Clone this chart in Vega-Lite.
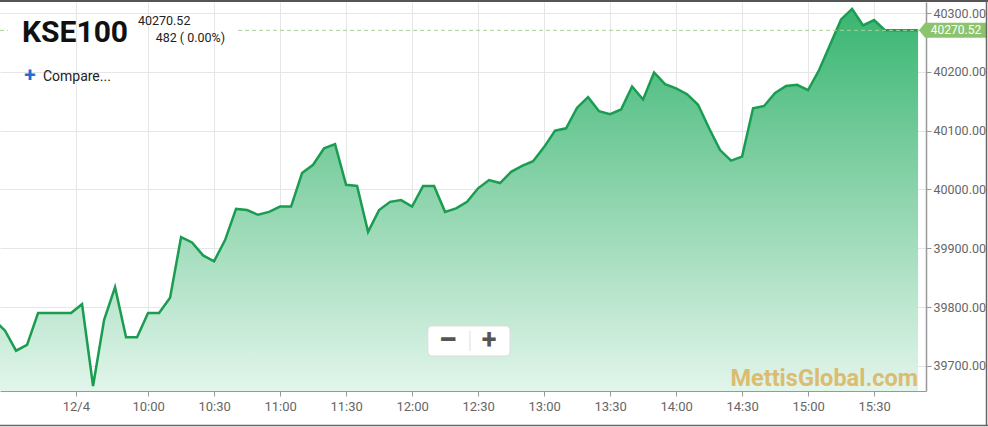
{
  "$schema": "https://vega.github.io/schema/vega-lite/v6.json",
  "width": 926,
  "height": 389,
  "autosize": {"type": "none"},
  "padding": {"left": 0, "top": 2, "right": 62, "bottom": 36},
  "background": "#ffffff",
  "config": {"view": {"stroke": null}, "font": "Roboto"},
  "data": {"values": [
    {"t": 530, "v": 39778}, {"t": 535, "v": 39760}, {"t": 540, "v": 39726}, {"t": 545, "v": 39736},
    {"t": 550, "v": 39790}, {"t": 555, "v": 39790}, {"t": 560, "v": 39790}, {"t": 565, "v": 39790},
    {"t": 570, "v": 39805}, {"t": 575, "v": 39666}, {"t": 580, "v": 39778}, {"t": 585, "v": 39834},
    {"t": 590, "v": 39749}, {"t": 595, "v": 39749}, {"t": 600, "v": 39790}, {"t": 605, "v": 39790},
    {"t": 610, "v": 39816}, {"t": 615, "v": 39919}, {"t": 620, "v": 39910}, {"t": 625, "v": 39888},
    {"t": 630, "v": 39878}, {"t": 635, "v": 39914}, {"t": 640, "v": 39967}, {"t": 645, "v": 39965},
    {"t": 650, "v": 39957}, {"t": 655, "v": 39962}, {"t": 660, "v": 39971}, {"t": 665, "v": 39971},
    {"t": 670, "v": 40028}, {"t": 675, "v": 40042}, {"t": 680, "v": 40070}, {"t": 685, "v": 40077},
    {"t": 690, "v": 40008}, {"t": 695, "v": 40006}, {"t": 700, "v": 39928}, {"t": 705, "v": 39965},
    {"t": 710, "v": 39979}, {"t": 715, "v": 39982}, {"t": 720, "v": 39971}, {"t": 725, "v": 40006},
    {"t": 730, "v": 40006}, {"t": 735, "v": 39962}, {"t": 740, "v": 39968}, {"t": 745, "v": 39979},
    {"t": 750, "v": 40002}, {"t": 755, "v": 40016}, {"t": 760, "v": 40011}, {"t": 765, "v": 40030},
    {"t": 770, "v": 40040}, {"t": 775, "v": 40048}, {"t": 780, "v": 40072}, {"t": 785, "v": 40100},
    {"t": 790, "v": 40104}, {"t": 795, "v": 40139}, {"t": 800, "v": 40157}, {"t": 805, "v": 40133},
    {"t": 810, "v": 40128}, {"t": 815, "v": 40136}, {"t": 820, "v": 40175}, {"t": 825, "v": 40153},
    {"t": 830, "v": 40199}, {"t": 835, "v": 40179}, {"t": 840, "v": 40172}, {"t": 845, "v": 40162},
    {"t": 850, "v": 40144}, {"t": 855, "v": 40104}, {"t": 860, "v": 40067}, {"t": 865, "v": 40049},
    {"t": 870, "v": 40056}, {"t": 875, "v": 40138}, {"t": 880, "v": 40142}, {"t": 885, "v": 40164},
    {"t": 890, "v": 40176}, {"t": 895, "v": 40178}, {"t": 900, "v": 40169}, {"t": 905, "v": 40203},
    {"t": 910, "v": 40246}, {"t": 915, "v": 40289}, {"t": 920, "v": 40307}, {"t": 925, "v": 40279},
    {"t": 930, "v": 40288}, {"t": 935, "v": 40270.52}, {"t": 940, "v": 40270.52}, {"t": 945, "v": 40270.52},
    {"t": 950, "v": 40270.52}
  ]},
  "layer": [
    {
      "mark": {
        "type": "area",
        "clip": true,
        "color": {
          "gradient": "linear", "x1": 0, "y1": 0, "x2": 0, "y2": 1,
          "stops": [{"offset": 0, "color": "#38b571"}, {"offset": 0.5, "color": "#8fd5ae"}, {"offset": 1, "color": "#e2f5eb"}]
        }
      },
      "encoding": {
        "x": {
          "field": "t", "type": "quantitative",
          "scale": {"domain": [532.7, 953.6], "nice": false, "zero": false},
          "axis": {
            "orient": "bottom", "title": null,
            "values": [567.2, 600, 630, 660, 690, 720, 750, 780, 810, 840, 870, 900, 930],
            "labelExpr": "datum.value < 590 ? '12/4' : floor(datum.value/60) + ':' + (datum.value % 60 == 0 ? '00' : '30')",
            "grid": true, "gridColor": "#e6e6e6", "gridWidth": 1,
            "domainColor": "#999999", "domainWidth": 1,
            "tickColor": "#999999", "tickSize": 5,
            "labelFont": "Roboto", "labelFontSize": 13, "labelColor": "#666666", "labelPadding": 4,
            "labelFlush": false, "labelOverlap": false
          }
        },
        "y": {
          "field": "v", "type": "quantitative",
          "scale": {"domain": [39657.5, 40318.7], "nice": false, "zero": false},
          "axis": {
            "orient": "right", "title": null,
            "values": [39700, 39800, 39900, 40000, 40100, 40200, 40300],
            "format": ".2f",
            "grid": true, "gridColor": "#e6e6e6", "gridWidth": 1,
            "domainColor": "#999999", "domainWidth": 1.5,
            "tickColor": "#999999", "tickSize": 5,
            "labelFont": "Roboto", "labelFontSize": 12.5, "labelColor": "#666666", "labelPadding": 2,
            "labelFlush": false, "labelOverlap": false
          }
        },
        "y2": {"datum": 39657.5}
      }
    },
    {
      "mark": {"type": "line", "clip": true, "color": "#1a9c51", "strokeWidth": 2.5},
      "encoding": {
        "x": {"field": "t", "type": "quantitative"},
        "y": {"field": "v", "type": "quantitative"}
      }
    },
    {
      "data": {"values": [{"a": 532.7, "b": 536.3}, {"a": 640.9, "b": 953.6}]},
      "mark": {"type": "rule", "color": "#a6d497", "strokeWidth": 1, "strokeDash": [4, 3]},
      "encoding": {
        "x": {"field": "a", "type": "quantitative"},
        "x2": {"field": "b"},
        "y": {"datum": 40270.52}
      }
    },
    {
      "data": {"values": [{"label": "KSE100"}]},
      "mark": {"type": "text", "font": "Roboto", "fontWeight": "bold", "fontSize": 30, "color": "#111111", "align": "left", "baseline": "alphabetic"},
      "encoding": {"x": {"datum": 542.7}, "y": {"datum": 40250.7}, "text": {"field": "label"}}
    },
    {
      "data": {"values": [{"label": "40270.52"}]},
      "mark": {"type": "text", "font": "Roboto", "fontSize": 12.5, "color": "#222222", "align": "left", "baseline": "alphabetic"},
      "encoding": {"x": {"datum": 595.4}, "y": {"datum": 40279.6}, "text": {"field": "label"}}
    },
    {
      "data": {"values": [{"label": "482 ( 0.00%)"}]},
      "mark": {"type": "text", "font": "Roboto", "fontSize": 12.5, "color": "#222222", "align": "right", "baseline": "alphabetic"},
      "encoding": {"x": {"datum": 635}, "y": {"datum": 40250.7}, "text": {"field": "label"}}
    },
    {
      "data": {"values": [{"label": "+"}]},
      "mark": {"type": "text", "font": "Roboto", "fontWeight": "bold", "fontSize": 21, "color": "#1f6fd0", "align": "center", "baseline": "alphabetic"},
      "encoding": {"x": {"datum": 546.3}, "y": {"datum": 40182.7}, "text": {"field": "label"}}
    },
    {
      "data": {"values": [{"label": "Compare..."}]},
      "mark": {"type": "text", "font": "Roboto", "fontSize": 14, "color": "#222222", "align": "left", "baseline": "alphabetic"},
      "encoding": {"x": {"datum": 552.2}, "y": {"datum": 40184.4}, "text": {"field": "label"}}
    },
    {
      "data": {"values": [{"label": "zoom"}]},
      "mark": {"type": "rect", "color": "#ffffff", "stroke": "#dddddd", "strokeWidth": 1, "cornerRadius": 4},
      "encoding": {"x": {"datum": 727.2}, "x2": {"datum": 764.5}, "y": {"datum": 39768}, "y2": {"datum": 39717}}
    },
    {
      "data": {"values": [{"label": "divider"}]},
      "mark": {"type": "rule", "color": "#dddddd", "strokeWidth": 1},
      "encoding": {"x": {"datum": 746.3}, "y": {"datum": 39759.5}, "y2": {"datum": 39725.5}}
    },
    {
      "data": {"values": [{"label": "−"}]},
      "mark": {"type": "text", "font": "Roboto", "fontWeight": "bold", "fontSize": 34, "color": "#555555", "align": "center", "baseline": "middle"},
      "encoding": {"x": {"datum": 736.3}, "y": {"datum": 39742.5}, "text": {"field": "label"}}
    },
    {
      "data": {"values": [{"label": "+"}]},
      "mark": {"type": "text", "font": "Roboto", "fontWeight": "bold", "fontSize": 27, "color": "#555555", "align": "center", "baseline": "middle"},
      "encoding": {"x": {"datum": 755}, "y": {"datum": 39742.5}, "text": {"field": "label"}}
    },
    {
      "data": {"values": [{"label": "MettisGlobal.com"}]},
      "mark": {"type": "text", "font": "Roboto", "fontWeight": "bold", "fontSize": 23.5, "color": "#dcb35a", "opacity": 0.85, "align": "right", "baseline": "alphabetic"},
      "encoding": {"x": {"datum": 950}, "y": {"datum": 39666}, "text": {"field": "label"}}
    },
    {
      "data": {"values": [{"label": "40270.52"}]},
      "mark": {"type": "point", "filled": true, "opacity": 1, "color": "#8cc46e", "size": 4624, "shape": "M0,0 L0.18,-0.22 L2,-0.22 L2,0.22 L0.18,0.22 Z"},
      "encoding": {"x": {"datum": 950.4}, "y": {"datum": 40270.52}}
    },
    {
      "data": {"values": [{"label": "40270.52"}]},
      "mark": {"type": "text", "font": "Roboto", "fontSize": 12, "color": "#ffffff", "align": "center", "baseline": "middle", "dx": 37},
      "encoding": {"x": {"datum": 950.4}, "y": {"datum": 40270.52}, "text": {"field": "label"}}
    },
    {
      "data": {"values": [{"label": "top"}]},
      "mark": {"type": "rule", "color": "#555555", "strokeWidth": 2},
      "encoding": {"x": {"datum": 532.7}, "x2": {"datum": 981.8}, "y": {"datum": 40320.4}}
    },
    {
      "data": {"values": [{"label": "right"}]},
      "mark": {"type": "rule", "color": "#666666", "strokeWidth": 1.5},
      "encoding": {"x": {"datum": 981.1}, "y": {"datum": 40320.4}, "y2": {"datum": 39599}}
    },
    {
      "data": {"values": [{"label": "bottom"}]},
      "mark": {"type": "rule", "color": "#666666", "strokeWidth": 1.5},
      "encoding": {"x": {"datum": 532.7}, "x2": {"datum": 981.8}, "y": {"datum": 39599}}
    }
  ]
}
